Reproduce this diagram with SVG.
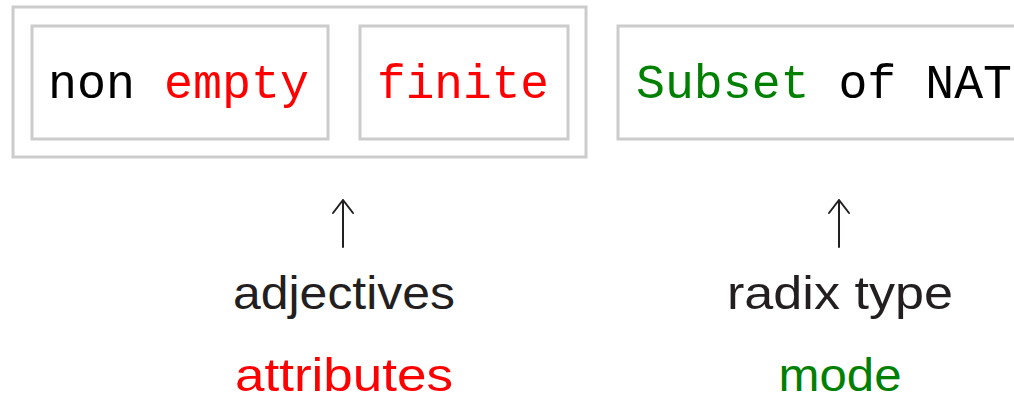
<svg xmlns="http://www.w3.org/2000/svg" width="1014" height="400" viewBox="0 0 1014 400">
  <style>
    .box { fill: none; stroke: #cccccc; stroke-width: 3; }
    .tt { font-family: "Liberation Mono", "DejaVu Sans Mono", monospace; font-size: 49px; fill: #000000; }
    .sf { font-family: "Liberation Sans", "DejaVu Sans", sans-serif; font-size: 46px; fill: #231f20; text-anchor: middle; }
    .red { fill: #ff0000; }
    .green { fill: #008000; }
    .arrow { fill: none; stroke: #231f20; stroke-width: 2; stroke-linecap: round; stroke-linejoin: round; }
  </style>

  <!-- attribute group -->
  <g id="attributes-group">
    <rect class="box" x="13" y="7" width="573" height="150"/>
  </g>
  <g id="non-empty">
    <rect class="box" x="32" y="26" width="296" height="113"/>
    <text class="tt" x="48" y="98" textLength="261" lengthAdjust="spacingAndGlyphs">non <tspan class="red">empty</tspan></text>
  </g>
  <g id="finite">
    <rect class="box" x="360" y="26" width="208" height="113"/>
    <text class="tt red" x="377" y="98" textLength="172" lengthAdjust="spacingAndGlyphs">finite</text>
  </g>
  <g id="subset-of-nat">
    <rect class="box" x="618" y="26" width="410" height="113"/>
    <text class="tt" x="636" y="98" textLength="376" lengthAdjust="spacingAndGlyphs"><tspan class="green">Subset</tspan> of NAT</text>
  </g>

  <!-- pointers from labels up to the phrases -->
  <g id="connectors">
    <path class="arrow" d="M343 247 V200 M333 213 L343 200 L353 213"/>
    <path class="arrow" d="M839 247 V200 M829 213 L839 200 L849 213"/>
  </g>

  <g id="label-adjectives">
    <text class="sf" x="344" y="309" textLength="222" lengthAdjust="spacingAndGlyphs">adjectives</text>
    <text class="sf red" x="344" y="391" textLength="218" lengthAdjust="spacingAndGlyphs">attributes</text>
  </g>
  <g id="label-radix-type">
    <text class="sf" x="840" y="309" textLength="226" lengthAdjust="spacingAndGlyphs">radix type</text>
    <text class="sf green" x="840" y="391" textLength="123" lengthAdjust="spacingAndGlyphs">mode</text>
  </g>
</svg>
